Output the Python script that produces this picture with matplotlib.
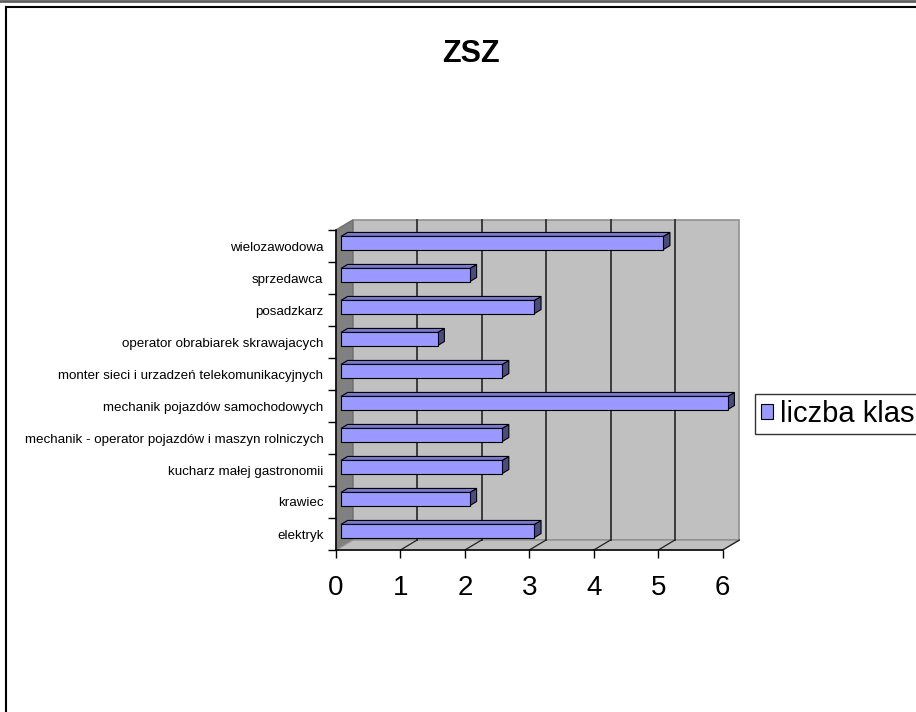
import numpy as np
import matplotlib
matplotlib.use("Agg")
import matplotlib.pyplot as plt
import matplotlib.patches as mpatches
import matplotlib.transforms as mtransforms
from matplotlib.lines import Line2D

# dane (od dołu do góry, jak w Excelu)
kategorie = ["elektryk", "krawiec", "kucharz małej gastronomii",
             "mechanik - operator pojazdów i maszyn rolniczych",
             "mechanik pojazdów samochodowych",
             "monter sieci i urzadzeń telekomunikacyjnych",
             "operator obrabiarek skrawajacych", "posadzkarz",
             "sprzedawca", "wielozawodowa"]
liczba_klas = [3, 2, 2.5, 2.5, 6, 2.5, 1.5, 3, 2, 5]
x_ticks = [0, 1, 2, 3, 4, 5, 6]
tytul = "ZSZ"
seria = "liczba klas"

BAR_FRONT = "#9999ff"
BAR_TOP = "#7a7acc"
BAR_SIDE = "#4b4b80"
WALL = "#c0c0c0"
SIDE_WALL = "#808080"

W, H = 916, 712
DEPTH = np.array([16.7, 10.0])   # przesunięcie głębi 3D w pikselach
D0, D1 = 0.3, 0.7                # słupek w głębi
BAR_H = 0.41

plt.rcParams["font.family"] = ["Liberation Sans", "DejaVu Sans"]

fig = plt.figure(figsize=(W / 100, H / 100), dpi=100)
ax = fig.add_axes([336 / W, 162 / H, 386.7 / W, 320 / H])
ax.set_xlim(0, 6)
ax.set_ylim(-0.5, len(kategorie) - 0.5)
ax.patch.set_visible(False)
ident = mtransforms.IdentityTransform()


def P(x, y, d):
    return ax.transData.transform((x, y)) + d * DEPTH


def poly(pts, fc, ec, lw=1.0, z=1):
    ax.add_patch(mpatches.Polygon(pts, closed=True, facecolor=fc, edgecolor=ec,
                                  linewidth=lw, transform=ident, clip_on=False, zorder=z))


def line(a, b, c, lw, z=1.5):
    ax.add_line(Line2D([a[0], b[0]], [a[1], b[1]], color=c, linewidth=lw,
                       transform=ident, clip_on=False, zorder=z))


y0, y1 = -0.5, len(kategorie) - 0.5
# ściany
poly([P(0, y0, 1), P(6, y0, 1), P(6, y1, 1), P(0, y1, 1)], WALL, "#909090", 1.2)
poly([P(0, y0, 0), P(0, y0, 1), P(0, y1, 1), P(0, y1, 0)], SIDE_WALL, "#707070", 1.0)
poly([P(0, y0, 0), P(6, y0, 0), P(6, y0, 1), P(0, y0, 1)], WALL, "#909090", 1.0)
for k in x_ticks[1:-1]:
    line(P(k, y0, 1), P(k, y1, 1), "#303030", 1.3)
for k in x_ticks[1:]:
    line(P(k, y0, 0), P(k, y0, 1), "#202020", 0.9)

# słupki 3D
ys = np.arange(len(kategorie))
off = mtransforms.offset_copy(ax.transData, fig=fig, x=D0 * DEPTH[0],
                              y=D0 * DEPTH[1], units="dots")
for y, v in zip(ys, liczba_klas):
    b, t = y - BAR_H / 2, y + BAR_H / 2
    poly([P(v, b, D0), P(v, b, D1), P(v, t, D1), P(v, t, D0)], BAR_SIDE, "black", 0.8, 3)
    poly([P(0, t, D0), P(v, t, D0), P(v, t, D1), P(0, t, D1)], BAR_TOP, "black", 0.8, 3)
ax.barh(ys, liczba_klas, height=BAR_H, color=BAR_FRONT, edgecolor="black",
        linewidth=0.8, transform=off, clip_on=False, zorder=4)

# osie
for s in ["top", "right"]:
    ax.spines[s].set_visible(False)
for s in ["left", "bottom"]:
    ax.spines[s].set_linewidth(1.1)
    ax.spines[s].set_zorder(5)
ax.set_xticks(x_ticks)
ax.set_xticklabels([str(t) for t in x_ticks], fontsize=20)
ax.tick_params(axis="x", length=5.8, width=1.0, pad=12)
ax.set_yticks(ys)
ax.set_yticklabels(kategorie, fontsize=9.6)
ax.tick_params(axis="y", which="major", length=0, pad=9)
ax.set_yticks(np.arange(-0.5, len(kategorie)), minor=True)
ax.tick_params(axis="y", which="minor", length=5.8, width=1.0)

fig.text(471 / W, 1 - 62 / H, tytul, fontsize=22, fontweight="bold",
         ha="center", va="baseline")

h = mpatches.Patch(facecolor=BAR_FRONT, edgecolor="black", linewidth=0.8, label=seria)
leg = fig.legend(handles=[h], loc="center left", bbox_to_anchor=(755 / W, 1 - 414 / H),
                 fontsize=21, frameon=True, fancybox=False, borderpad=0.2,
                 handlelength=0.42, handleheight=0.42, handletextpad=0.22,
                 borderaxespad=0)
leg.get_frame().set_edgecolor("black")
leg.get_frame().set_linewidth(1.0)

# ramka obrazka
fig.add_artist(Line2D([0, 1], [1 - 1 / H, 1 - 1 / H], color="#606060", linewidth=2,
                      transform=fig.transFigure))
fig.add_artist(Line2D([6 / W, 1], [1 - 7 / H, 1 - 7 / H], color="black", linewidth=1.5,
                      transform=fig.transFigure))
fig.add_artist(Line2D([6 / W, 6 / W], [0, 1 - 7 / H], color="black", linewidth=1.5,
                      transform=fig.transFigure))

fig.savefig("out.png", dpi=100)
